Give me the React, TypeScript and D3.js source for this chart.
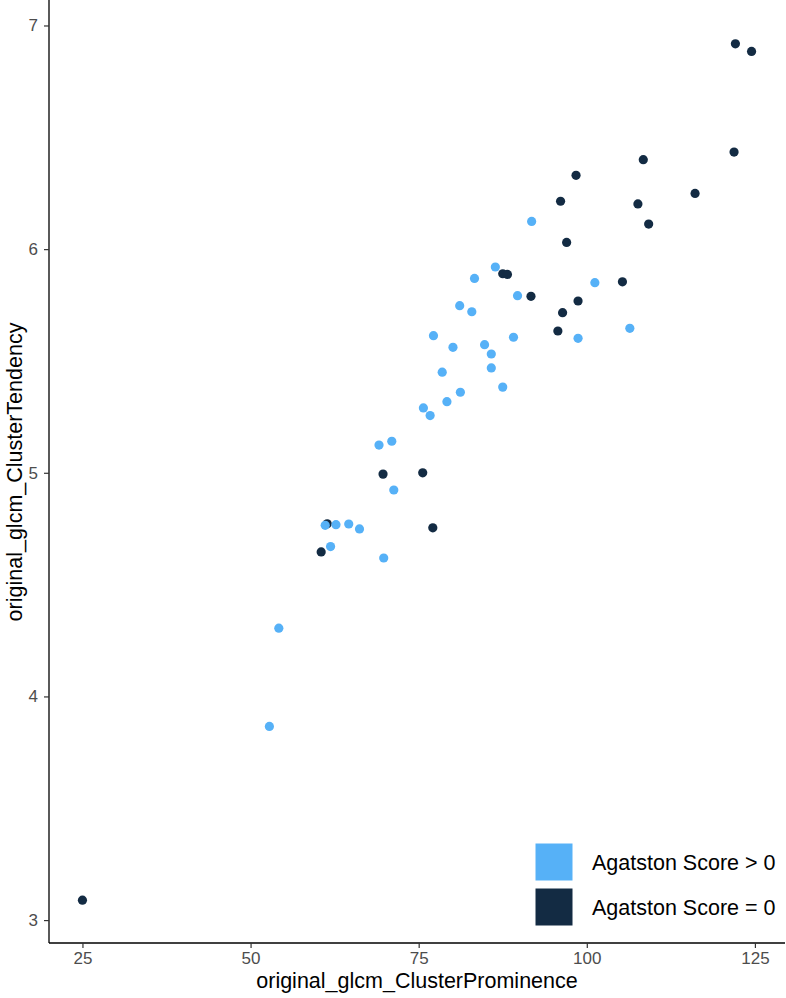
import React, { useEffect, useRef } from "react";
import * as d3 from "d3";

// Agatston Score = 0
const zeroX = [25.0, 122.1, 124.5, 121.9, 108.4, 98.4, 116.1, 96.1, 107.6, 109.2, 97.0, 87.5, 88.2, 91.7, 105.3, 98.7, 96.4, 95.7, 69.7, 75.6, 61.4, 77.1, 60.5];
const zeroY = [3.089, 6.918, 6.884, 6.434, 6.4, 6.33, 6.249, 6.214, 6.202, 6.112, 6.03, 5.89, 5.887, 5.789, 5.854, 5.768, 5.716, 5.634, 4.994, 5.0, 4.772, 4.754, 4.646];

// Agatston Score > 0
const posX = [91.8, 86.4, 83.3, 89.7, 81.1, 82.9, 77.2, 89.1, 80.1, 84.8, 85.8, 85.8, 78.5, 87.5, 81.2, 79.2, 75.7, 76.7, 71.0, 69.1, 71.3, 61.1, 62.7, 64.6, 66.2, 61.9, 69.8, 54.2, 52.8, 101.2, 106.4, 98.7];
const posY = [6.124, 5.92, 5.869, 5.792, 5.747, 5.72, 5.613, 5.606, 5.561, 5.573, 5.531, 5.469, 5.45, 5.383, 5.36, 5.318, 5.29, 5.256, 5.141, 5.124, 4.923, 4.765, 4.768, 4.771, 4.749, 4.67, 4.619, 4.305, 3.866, 5.85, 5.646, 5.601];

const xTicks = [25, 50, 75, 100, 125];
const yTicks = [3, 4, 5, 6, 7];
const groups = ["Agatston Score > 0", "Agatston Score = 0"];
const groupColors = ["#56B1F7", "#132B43"];

const W = 786;
const H = 998;

function expand(vals: number[]): [number, number] {
  const [a, b] = d3.extent(vals) as [number, number];
  const pad = (b - a) * 0.05;
  return [a - pad, b + pad];
}

export default function App() {
  const ref = useRef<SVGSVGElement>(null);

  useEffect(() => {
    const svg = d3.select(ref.current);
    svg.selectAll("*").remove();
    const font = "'Liberation Sans', Arial, Helvetica, sans-serif";

    const left = 49, right = 785, top = 1, bottom = 943;
    const x = d3.scaleLinear().domain(expand([...zeroX, ...posX])).range([left, right]);
    const y = d3.scaleLinear().domain(expand([...zeroY, ...posY])).range([bottom, top]);

    // axes
    const xAxis = svg.append("g").attr("transform", `translate(0,${bottom})`)
      .call(d3.axisBottom(x).tickValues(xTicks).tickSize(5).tickPadding(4).tickFormat(d3.format("d")));
    const yAxis = svg.append("g").attr("transform", `translate(${left},0)`)
      .call(d3.axisLeft(y).tickValues(yTicks).tickSize(5).tickPadding(6).tickFormat(d3.format("d")));
    for (const ax of [xAxis, yAxis]) {
      ax.select(".domain").attr("stroke", "#000").attr("stroke-width", 1.3);
      ax.selectAll(".tick line").attr("stroke", "#333").attr("stroke-width", 1.2);
      ax.selectAll(".tick text").attr("fill", "#4d4d4d").attr("font-size", 17).attr("font-family", font);
    }
    // ggplot style: axis lines only span the panel
    xAxis.select(".domain").attr("d", `M${left},0H${right}`);
    yAxis.select(".domain").attr("d", `M0,${bottom}V${top - 1}`);

    // points
    const dots = svg.append("g");
    dots.selectAll("circle.zero").data(zeroX.map((v, i) => [v, zeroY[i]]))
      .join("circle").attr("class", "zero")
      .attr("cx", d => x(d[0])).attr("cy", d => y(d[1])).attr("r", 4.6)
      .attr("fill", groupColors[1]);
    dots.selectAll("circle.pos").data(posX.map((v, i) => [v, posY[i]]))
      .join("circle").attr("class", "pos")
      .attr("cx", d => x(d[0])).attr("cy", d => y(d[1])).attr("r", 4.6)
      .attr("fill", groupColors[0]);

    // axis titles
    svg.append("text").attr("x", (left + right) / 2).attr("y", 988)
      .attr("text-anchor", "middle").attr("font-size", 21.5).attr("font-family", font)
      .text("original_glcm_ClusterProminence");
    svg.append("text").attr("transform", `translate(22,${(top + bottom) / 2}) rotate(-90)`)
      .attr("text-anchor", "middle").attr("font-size", 21.5).attr("font-family", font)
      .text("original_glcm_ClusterTendency");

    // legend
    const lg = svg.append("g").attr("transform", "translate(535,843)");
    groups.forEach((g, i) => {
      lg.append("rect").attr("x", 0).attr("y", i * 45).attr("width", 38).attr("height", 38)
        .attr("fill", groupColors[i]).attr("stroke", "#fff").attr("stroke-width", 1);
      lg.append("text").attr("x", 57).attr("y", i * 45 + 19).attr("dy", "0.36em")
        .attr("font-size", 21.5).attr("font-family", font).attr("fill", "#000").text(g);
    });
  }, []);

  return (
    <svg ref={ref} width={W} height={H} style={{ position: "absolute", left: 0, top: 0, background: "#fff" }} />
  );
}
